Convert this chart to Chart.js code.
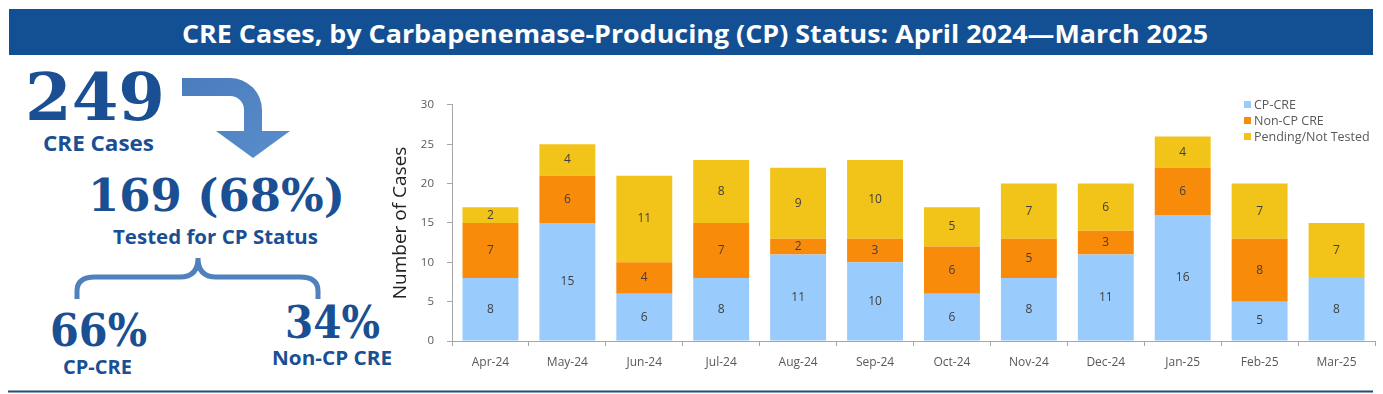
<!DOCTYPE html>
<html>
<head>
<meta charset="utf-8">
<script src="https://cdn.jsdelivr.net/npm/chart.js@4.4.1/dist/chart.umd.min.js"></script>
<style>
  body { margin: 0; background: #fff; width: 1383px; height: 394px; overflow: hidden; position: relative; }
  #panel { position: absolute; left: 0; top: 0; }
  #wrap { position: absolute; left: 380px; top: 85px; width: 1003px; height: 303px; }
  #legend { position: absolute; left: 1244px; top: 97px; font-family: "Open Sans", sans-serif; font-size: 12.5px; color: #595959; }
  #legend div { height: 16px; line-height: 15px; white-space: nowrap; }
  #legend span { display: inline-block; width: 7px; height: 7px; margin-right: 3px; vertical-align: 1px; }
</style>
</head>
<body>
<svg id="panel" width="1383" height="394">
  <rect x="9" y="9" width="1364" height="46" fill="#134f93"/>
  <text x="695" y="43" text-anchor="middle" fill="#fff" font-family="Open Sans" font-weight="bold" font-size="25" textLength="1026" lengthAdjust="spacingAndGlyphs">CRE Cases, by Carbapenemase-Producing (CP) Status: April 2024—March 2025</text>

  <g fill="#1a4f93">
    <text x="95" y="120" text-anchor="middle" font-family="DejaVu Serif" font-weight="bold" font-size="66" textLength="140" lengthAdjust="spacingAndGlyphs">249</text>
    <text x="98.5" y="151" text-anchor="middle" font-family="Open Sans" font-weight="bold" font-size="21" textLength="111" lengthAdjust="spacingAndGlyphs">CRE Cases</text>
    <text x="216.5" y="211" text-anchor="middle" font-family="DejaVu Serif" font-weight="bold" font-size="44" textLength="257" lengthAdjust="spacingAndGlyphs">169 (68%)</text>
    <text x="215.5" y="244" text-anchor="middle" font-family="Open Sans" font-weight="bold" font-size="19" textLength="205" lengthAdjust="spacingAndGlyphs">Tested for CP Status</text>
    <text x="98.5" y="346" text-anchor="middle" font-family="DejaVu Serif" font-weight="bold" font-size="44" textLength="97" lengthAdjust="spacingAndGlyphs">66%</text>
    <text x="97.5" y="374" text-anchor="middle" font-family="Open Sans" font-weight="bold" font-size="19" textLength="69" lengthAdjust="spacingAndGlyphs">CP-CRE</text>
    <text x="332.5" y="338" text-anchor="middle" font-family="DejaVu Serif" font-weight="bold" font-size="44" textLength="95" lengthAdjust="spacingAndGlyphs">34%</text>
    <text x="332" y="365" text-anchor="middle" font-family="Open Sans" font-weight="bold" font-size="19" textLength="120" lengthAdjust="spacingAndGlyphs">Non-CP CRE</text>
  </g>

  <defs>
    <linearGradient id="arrowFill" x1="0" y1="0" x2="1" y2="1">
      <stop offset="0" stop-color="#4b7dbd"/>
      <stop offset="1" stop-color="#5a8dcc"/>
    </linearGradient>
  </defs>
  <path d="M182,78 L230,78 A32,32 0 0 1 262,110 L262,131 L290,131 L253,158 L216,131 L244,131 L244,110 A14,14 0 0 0 230,96 L182,96 Z" fill="url(#arrowFill)"/>
  <path d="M77,299 L77,291 Q77,277 95,277 L180,277 Q198,277 198,258 Q198,277 216,277 L300,277 Q318,277 318,291 L318,299" fill="none" stroke="#4f81bd" stroke-width="5"/>

  <line x1="8" y1="391.5" x2="1373" y2="391.5" stroke="#1f4e79" stroke-width="2"/>
</svg>

<div id="wrap"><canvas id="casesChart" width="1003" height="303"></canvas></div>
<div id="legend"></div>

<script>
var months = ["Apr-24", "May-24", "Jun-24", "Jul-24", "Aug-24", "Sep-24", "Oct-24", "Nov-24", "Dec-24", "Jan-25", "Feb-25", "Mar-25"];
var cpCre = [8, 15, 6, 8, 11, 10, 6, 8, 11, 16, 5, 8];
var nonCpCre = [7, 6, 4, 7, 2, 3, 6, 5, 3, 6, 8, 0];
var pending = [2, 4, 11, 8, 9, 10, 5, 7, 6, 4, 7, 7];
var yTicks = [0, 5, 10, 15, 20, 25, 30];

var seriesNames = ["CP-CRE", "Non-CP CRE", "Pending/Not Tested"];
var seriesColors = ["#99cbfd", "#f88b09", "#f2c319"];

// value labels in the middle of each segment
var segmentLabels = {
	id: "segmentLabels",
	afterDatasetsDraw: function (chart) {
		var c = chart.ctx;
		c.save();
		c.font = "12px 'Open Sans'";
		c.fillStyle = "#404040";
		c.textAlign = "center";
		c.textBaseline = "middle";
		chart.data.datasets.forEach(function (ds, i) {
			chart.getDatasetMeta(i).data.forEach(function (bar, j) {
				var v = ds.data[j];
				if (!v) return;
				c.fillText(v, bar.x, (bar.y + bar.base) / 2);
			});
		});
		c.restore();
	},
};

var ctx = document.getElementById("casesChart").getContext("2d");
new Chart(ctx, {
	type: "bar",
	data: {
		labels: months,
		datasets: [
			{ label: seriesNames[0], data: cpCre, backgroundColor: seriesColors[0] },
			{ label: seriesNames[1], data: nonCpCre, backgroundColor: seriesColors[1] },
			{ label: seriesNames[2], data: pending, backgroundColor: seriesColors[2] },
		],
	},
	options: {
		responsive: false,
		animation: false,
		devicePixelRatio: 1,
		datasets: { bar: { barPercentage: 0.727, categoryPercentage: 1.0 } },
		layout: { padding: { top: 13, right: 8, left: 0, bottom: 0 } },
		plugins: {
			legend: { display: false },
			tooltip: { enabled: false },
		},
		scales: {
			x: {
				stacked: true,
				grid: { drawOnChartArea: false, drawTicks: true, tickLength: 5, color: "#a6a6a6", offset: true },
				border: { color: "#a6a6a6" },
				ticks: { color: "#595959", font: { family: "Open Sans", size: 12 }, padding: 9, maxRotation: 0 },
				afterFit: function (s) { s.height = 47; },
			},
			y: {
				stacked: true,
				min: 0,
				max: 30,
				afterBuildTicks: function (s) { s.ticks = yTicks.map(function (v) { return { value: v }; }); },
				grid: { drawOnChartArea: false, drawTicks: true, tickLength: 5, color: "#a6a6a6" },
				border: { color: "#a6a6a6" },
				ticks: { color: "#595959", font: { family: "Open Sans", size: 11.5 }, padding: 13 },
				title: { display: true, text: "Number of Cases", color: "#222", font: { family: "Open Sans", size: 19 }, padding: { top: 9, bottom: 0 } },
				afterFit: function (s) { s.width = 72; },
			},
		},
	},
	plugins: [segmentLabels],
});

var legend = document.getElementById("legend");
seriesNames.forEach(function (name, i) {
	var row = document.createElement("div");
	row.innerHTML = '<span style="background:' + seriesColors[i] + '"></span>' + name;
	legend.appendChild(row);
});
</script>
</body>
</html>
